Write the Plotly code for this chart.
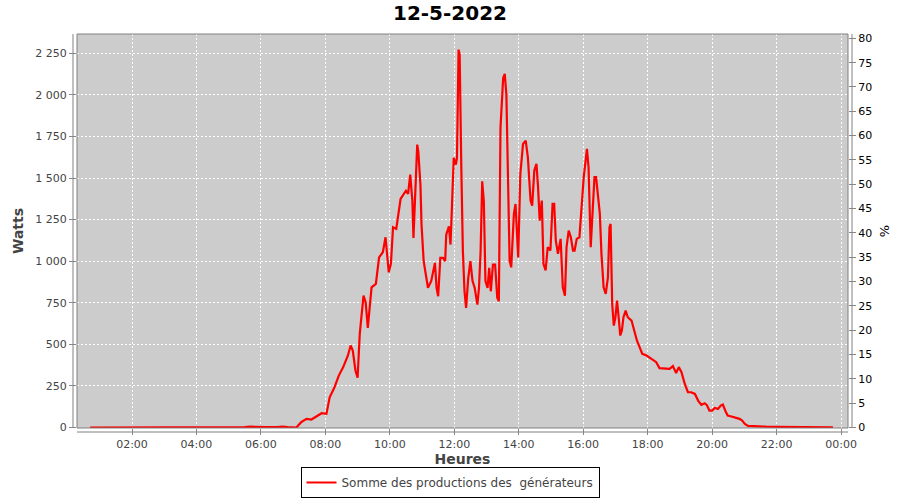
import plotly.graph_objects as go

DAY = "2022-05-12"
NEXT_DAY = "2022-05-13"

times = [
    "00:42", "01:00", "01:30", "02:00", "02:30", "03:00", "03:30", "04:00", "04:30", "05:00",
    "05:30", "05:40", "05:50", "06:00", "06:10", "06:30", "06:40", "06:50", "07:06",
    "07:15", "07:25", "07:34", "07:43", "07:53", "08:02", "08:08", "08:17", "08:25", "08:33",
    "08:42", "08:47", "08:51", "08:56", "09:00", "09:04", "09:11", "09:15", "09:19", "09:26",
    "09:34", "09:40", "09:47", "09:52", "09:58", "10:02", "10:06", "10:12", "10:20", "10:30",
    "10:34", "10:38", "10:42", "10:44", "10:47", "10:51", "10:53", "10:57", "10:59", "11:03",
    "11:07", "11:11", "11:17", "11:24", "11:27", "11:30", "11:34", "11:39", "11:43", "11:45",
    "11:50", "11:53", "11:56", "11:59", "12:03", "12:05", "12:08", "12:10", "12:13", "12:16",
    "12:19", "12:22", "12:26", "12:30", "12:34", "12:38", "12:43", "12:46", "12:49", "12:52",
    "12:55", "12:58", "13:02", "13:05", "13:08", "13:12", "13:16", "13:20", "13:23", "13:26",
    "13:31", "13:34", "13:37", "13:39", "13:43", "13:46", "13:51", "13:54", "13:59", "14:03",
    "14:08", "14:13", "14:17", "14:22", "14:25", "14:29", "14:33", "14:36", "14:39", "14:43",
    "14:46", "14:50", "14:54", "14:59", "15:03", "15:06", "15:09", "15:13", "15:18", "15:22",
    "15:26", "15:29", "15:33", "15:37", "15:41", "15:44", "15:48", "15:53", "15:58", "16:01",
    "16:07", "16:10", "16:14", "16:17", "16:21", "16:24", "16:28", "16:31", "16:34", "16:38",
    "16:42", "16:46", "16:49", "16:51", "16:54", "16:57", "17:00", "17:03", "17:06", "17:09",
    "17:12", "17:15", "17:19", "17:23", "17:30", "17:35", "17:40", "17:45", "17:50", "17:58",
    "18:07", "18:16", "18:22", "18:32", "18:41", "18:47", "18:53", "18:58", "19:03", "19:09",
    "19:15", "19:21", "19:28", "19:34", "19:40", "19:46", "19:50", "19:55", "20:00", "20:05",
    "20:11", "20:16", "20:20", "20:25", "20:29", "20:36", "20:44", "20:51", "20:56", "21:01",
    "21:07", "21:16", "21:40", "22:00", "22:30", "23:00", "23:30", "23:45",
]

watts = [
    0, 0, 0, 0, 1, 0, 0, 1, 0, 0,
    2, 5, 3, 5, 2, 3, 5, 2, 0,
    32, 52, 48, 66, 86, 82, 182, 242, 312, 362,
    433, 493, 463, 343, 299, 563, 793, 753, 599, 843,
    863, 1023, 1054, 1144, 933, 984, 1204, 1194, 1374, 1424,
    1404, 1521, 1360, 1140, 1400, 1701, 1661, 1460, 1220, 1000,
    920, 840, 880, 990, 840, 789, 1020, 1020, 1000, 1160,
    1210, 1100, 1360, 1621, 1581, 1621, 2272, 2242, 1581, 1060,
    819, 719, 900, 1000, 880, 840, 739, 840, 1060, 1480,
    1360, 880, 840, 960, 819, 980, 980, 780, 759, 1801,
    2102, 2126, 2001, 1600, 1004, 963, 1284, 1344, 1023, 1525,
    1705, 1725, 1625, 1364, 1334, 1545, 1585, 1444, 1244, 1364,
    984, 944, 1084, 1064, 1344, 1344, 1124, 1044, 1134, 843,
    793, 1084, 1184, 1144, 1064, 1064, 1134, 1144, 1344, 1505,
    1675, 1565, 1084, 1264, 1505, 1505, 1384, 1284, 1044, 843,
    803, 903, 1204, 1224, 743, 613, 663, 763, 663, 553,
    583, 663, 703, 663, 643, 583, 523, 483, 443, 433,
    413, 393, 357, 353, 353, 369, 327, 363, 333, 263,
    212, 212, 202, 162, 136, 146, 136, 102, 102, 118,
    112, 132, 138, 98, 72, 66, 58, 52, 42, 22,
    10, 8, 5, 4, 3, 4, 2, 1,
]

CAPACITY_W = 2925  # watts corresponding to 100 %
Y_RANGE = [-3, 2366]
X_RANGE = [f"{DAY} 00:17:36", f"{NEXT_DAY} 00:13:00"]

TITLE = "12-5-2022"
SERIES_NAME = "Somme des productions des  générateurs"

x = [f"{DAY} {t}" for t in times]

fig = go.Figure()
fig.add_trace(go.Scatter(
    x=x, y=watts, mode="lines", name=SERIES_NAME,
    line=dict(color="#ff0000", width=2.2),
    hoverinfo="x+y",
))
# invisible trace to anchor the percentage axis
fig.add_trace(go.Scatter(
    x=x, y=[w / CAPACITY_W * 100 for w in watts], yaxis="y2", mode="lines",
    line=dict(color="rgba(0,0,0,0)", width=0), showlegend=False, hoverinfo="skip",
))

font_family = "DejaVu Sans"
tick_font = dict(family=font_family, size=11, color="#444444")

fig.update_layout(
    width=900, height=500,
    margin=dict(l=77, r=52, t=34, b=72, autoexpand=False),
    paper_bgcolor="white",
    plot_bgcolor="#cccccc",
    separators=", ",
    title=dict(text=f"<b>{TITLE}</b>", x=0.5, xanchor="center", y=1 - 13 / 500,
               yanchor="middle", yref="container",
               font=dict(family=font_family, size=20, color="#000000")),
    xaxis=dict(
        type="date", range=X_RANGE, tick0=f"{DAY} 00:00", dtick=7200000,
        tickformat="%H:%M", showgrid=True, gridcolor="white", griddash="2px,2px",
        gridwidth=1, zeroline=False, showline=False, automargin=False,
        ticks="outside", ticklen=6, tickcolor="#888888", tickfont=tick_font,
        title=dict(text="<b>Heures</b>", font=dict(family=font_family, size=14, color="#444444"),
                   standoff=6),
    ),
    yaxis=dict(
        range=Y_RANGE, dtick=250, tick0=0, tickformat=",d",
        showgrid=True, gridcolor="white", griddash="2px,2px", gridwidth=1,
        zeroline=False, showline=False, automargin=False,
        ticks="outside", ticklen=7, tickcolor="#888888", tickfont=tick_font,
        title=dict(text="<b>Watts</b>", font=dict(family=font_family, size=14, color="#444444"),
                   standoff=8),
    ),
    yaxis2=dict(
        overlaying="y", side="right",
        range=[Y_RANGE[0] / CAPACITY_W * 100, Y_RANGE[1] / CAPACITY_W * 100],
        dtick=5, tick0=0, showgrid=False, zeroline=False, showline=False, automargin=False,
        ticks="outside", ticklen=7, tickcolor="#888888",
        tickfont=dict(family=font_family, size=11, color="#000000"),
        title=dict(text="%", font=dict(family=font_family, size=13, color="#000000"),
                   standoff=8),
    ),
    legend=dict(
        orientation="h", x=0.5, xanchor="center", xref="container",
        y=2 / 500, yanchor="bottom", yref="container",
        bgcolor="white", bordercolor="#000000", borderwidth=1,
        font=dict(family=font_family, size=12, color="#444444"),
        itemwidth=30,
    ),
    showlegend=True,
    shapes=[
        dict(type="rect", xref="paper", yref="paper", x0=0, x1=1, y0=0, y1=1,
             line=dict(color="#808080", width=1), fillcolor="rgba(0,0,0,0)", layer="above"),
        dict(type="line", xref="paper", yref="paper", x0=-4 / 771, x1=-4 / 771, y0=0, y1=1,
             line=dict(color="#808080", width=1)),
        dict(type="line", xref="paper", yref="paper", x0=1 + 4 / 771, x1=1 + 4 / 771, y0=0, y1=1,
             line=dict(color="#808080", width=1)),
        dict(type="line", xref="paper", yref="paper", x0=0, x1=1, y0=-4 / 394, y1=-4 / 394,
             line=dict(color="#808080", width=1)),
    ],
)

fig.write_html(
    "out.html",
    config={"displayModeBar": False},
    post_script="document.body.style.margin='0';document.body.style.padding='0';"
                "document.body.style.overflow='hidden';",
)
